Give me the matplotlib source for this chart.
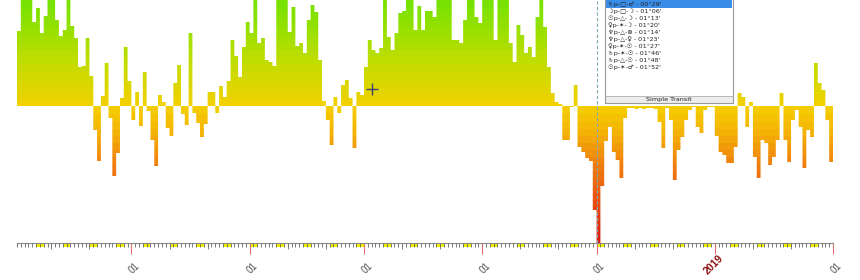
import numpy as np
import pandas as pd
import matplotlib
matplotlib.use('Agg')
import matplotlib.pyplot as plt
import matplotlib.dates as mdates
from matplotlib.colors import LinearSegmentedColormap
from matplotlib.path import Path
from matplotlib.patches import PathPatch, Rectangle
from matplotlib import transforms

#### data (one value per day)
start_day = '2018-07-02'
end_day = '2019-01-31'
scores = [
    75, 115, 115, 115, 84, 98, 73, 90, 115, 115,
    86, 70, 76, 115, 80, 68, 39, 40, 68, 30,
    -24, -55, 10, 43, -12, -70, -47, 8, 59, 25,
    -14, 14, -20, 34, -5, -34, -60, 11, 4, -22,
    -30, 23, 41, -8, -19, 73, -7, -17, -31, -18,
    14, 14, -7, 20, 9, 25, 66, 50, 29, 59,
    84, 73, 115, 63, 68, 46, 44, 40, 115, 115,
    115, 74, 99, 60, 63, 53, 86, 101, 94, 46,
    5, -14, -39, 9, -7, 21, 26, 8, -42, 14,
    11, 39, 66, 56, 53, 58, 115, 69, 56, 73,
    93, 95, 115, 115, 76, 100, 76, 95, 95, 89,
    115, 115, 115, 110, 66, 66, 63, 86, 115, 115,
    89, 83, 115, 115, 115, 66, 115, 115, 115, 63,
    44, 81, 71, 53, 59, 49, 89, 115, 79, 39,
    13, 4, 2, -34, -34, -1, 21, -41, -46, -52,
    -55, -104, -137, -80, -35, -21, -46, -54, -72, -12,
    -2, -2, -3, -2, -3, -2, -2, -3, -16, -42,
    -2, -14, -74, -44, -31, -14, -4, -1, -21, -27,
    -4, -1, -1, -30, -46, -49, -57, -57, -41, 13,
    9, -21, 4, -51, -72, -34, -37, -59, -51, -34,
    13, -34, -56, -14, -4, -21, -62, -24, -31, 43,
    23, 16, -14, -56,
]
score_min, score_max = -137, 106

month_starts = ['2018-08-01', '2018-09-01', '2018-10-01', '2018-11-01',
                '2018-12-01', '2019-01-01', '2019-02-01']
month_labels = ['01', '01', '01', '01', '01', '2019', '01']

cursor_day = '2018-12-01 05:00'
mouse_day, mouse_score = '2018-10-03 02:00', 17

popup_rows = [
    '♄p-□-♂ - 00°29\'',
    '☽p-□-☽ - 01°06\'',
    '☉p-△-☽ - 01°13\'',
    '♀p-✶-☽ - 01°20\'',
    '♆p-△-⊕ - 01°14\'',
    '♆p-△-♀ - 01°23\'',
    '♀p-✶-☉ - 01°27\'',
    '♄p-✶-☉ - 01°46\'',
    '♄p-△-☉ - 01°48\'',
    '☉p-✶-♂ - 01°52\'',
]
popup_title = 'Simple Transit'

#### figure
W, H = 860, 280
fig = plt.figure(figsize=(W / 100, H / 100), dpi=100)
ax = fig.add_axes([17 / W, (H - 243) / H, (833 - 17) / W, 243 / H])

days = pd.date_range(start_day, end_day, freq='D')
x = mdates.date2num(days)
x_end = x[-1] + 1

#### bars -> clip path for the gradient
bars = ax.bar(x, scores, width=1, align='edge', color='none', linewidth=0)
paths = [b.get_path().transformed(b.get_patch_transform()) for b in bars]
clip = PathPatch(Path.make_compound_path(*paths), transform=ax.transData,
                 fc='none', ec='none')
ax.add_patch(clip)

span = score_max - score_min
cmap = LinearSegmentedColormap.from_list('score', [
    (0.0, (0.87, 0.10, 0.05)),
    ((-100 - score_min) / span, (0.92, 0.30, 0.07)),
    ((-60 - score_min) / span, (0.94, 0.50, 0.06)),
    ((-30 - score_min) / span, (0.96, 0.68, 0.03)),
    ((0 - score_min) / span, (0.96, 0.82, 0.0)),
    ((50 - score_min) / span, (0.74, 0.87, 0.0)),
    (1.0, (0.47, 0.89, 0.0)),
])
grad = np.linspace(score_min, score_max, 34).reshape(-1, 1)
im = ax.imshow(grad, cmap=cmap, aspect='auto', origin='lower',
               extent=(x[0], x_end, score_min, score_max),
               interpolation='nearest', zorder=1)
im.set_clip_path(clip)

ax.set_xlim(x[0], x_end)
ax.set_ylim(score_min, score_max)

#### cursor line and mouse cross
ax.axvline(mdates.date2num(pd.Timestamp(cursor_day)), color='#7fa8b0',
           ls=(0, (3, 2)), lw=0.8, zorder=3)
ax.plot(mdates.date2num(pd.Timestamp(mouse_day)), mouse_score, marker='+',
        ms=9, mew=1, color='#3c4470', zorder=4)

#### axis styling
for s in ['left', 'right', 'top']:
    ax.spines[s].set_visible(False)
ax.spines['bottom'].set_color('#8a8a8a')
ax.spines['bottom'].set_linewidth(0.8)
ax.set_yticks([])

ms_num = mdates.date2num(pd.to_datetime(month_starts))
ax.set_xticks(ms_num)
ax.set_xticks(x, minor=True)
ax.tick_params(axis='x', which='major', length=8, width=0.8,
               color='#e07070', labelbottom=False)
ax.tick_params(axis='x', which='minor', length=2.8, width=0.6,
               color='#606060')

blend = transforms.blended_transform_factory(ax.transData, ax.transAxes)
px = 1 / 243
tens = [xi for xi, d in zip(x, days) if d.day in (11, 21)]
ax.vlines(tens, -6 * px, 0, transform=blend, clip_on=False,
          color='#707070', lw=0.6)

for xi, d in zip(x, days):
    if d.dayofweek == 5:
        ax.add_patch(Rectangle((xi, -3.8 * px), 2, 3.8 * px, transform=blend,
                               clip_on=False, fc='#f2f000', ec='none',
                               zorder=1))

for xi, lab in zip(ms_num, month_labels):
    yr = lab != '01'
    ax.annotate(lab, xy=(xi, 0), xycoords=('data', 'axes fraction'),
                xytext=(5, -10) if yr else (5, -15),
                textcoords='offset points', rotation=45,
                rotation_mode='anchor', ha='right', va='center',
                fontsize=7.5 if yr else 7,
                fontweight='bold' if yr else 'normal',
                color='#8b1010' if yr else '#505050',
                family='Liberation Sans', annotation_clip=False)

#### popup list
pop = fig.add_axes([605 / W, (H - 103) / H, 128 / W, 110 / H])
pop.set_xlim(0, 128)
pop.set_ylim(103, -7)
pop.set_xticks([])
pop.set_yticks([])
pop.set_facecolor('white')
for s in pop.spines.values():
    s.set_color('#9a9a9a')
    s.set_linewidth(0.8)
pop.add_patch(Rectangle((1, -7), 126, 15, fc='#3a8ee8', ec='none'))
for i, row in enumerate(popup_rows):
    pop.text(3, 4.5 + i * 6.95, row, fontsize=4.6, va='center', ha='left',
             color='#222222', family=['DejaVu Sans', 'Noto Sans CJK SC'])
pop.add_patch(Rectangle((0, 96), 128, 7, fc='#ececec', ec='#a0a0a0', lw=0.5))
pop.text(64, 99.8, popup_title, fontsize=4.6, ha='center', va='center',
         color='#222222')

fig.savefig('out.png', dpi=100)
